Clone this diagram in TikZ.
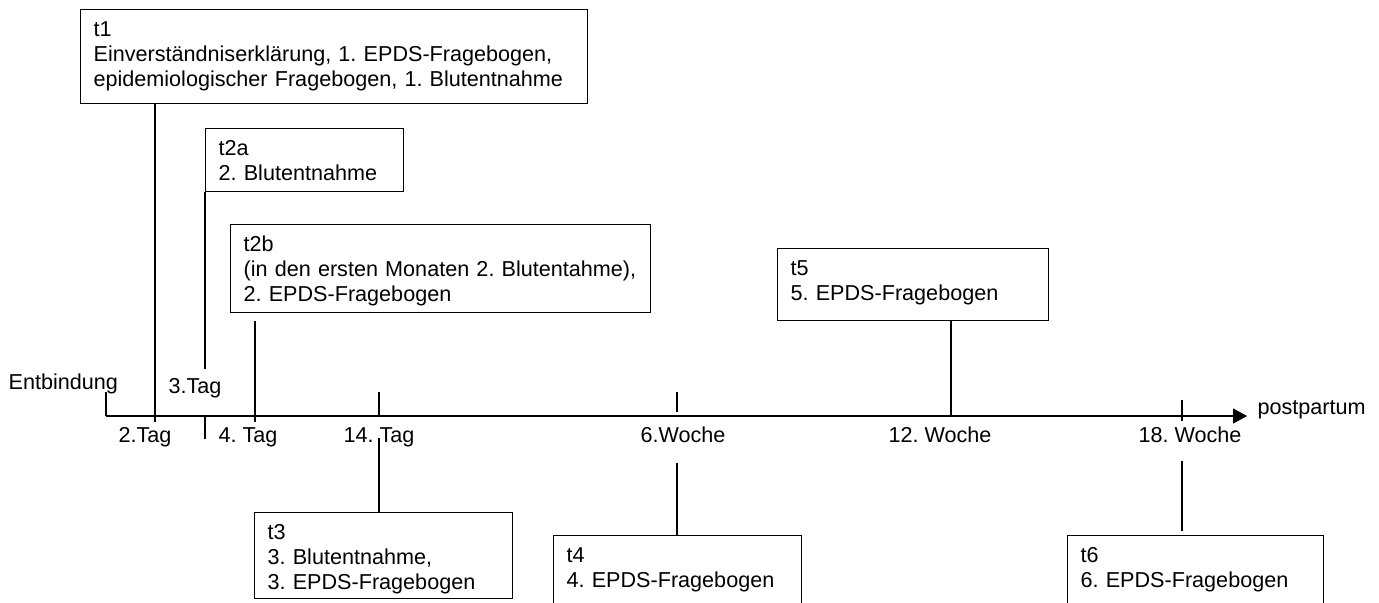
\documentclass[tikz,border=0pt]{standalone}
\usepackage{fontspec}
\setmainfont{Liberation Sans}
\frenchspacing
\usetikzlibrary{arrows.meta}

\begin{document}
\begin{tikzpicture}[
    x=0.5pt, y=-0.5pt,
    font=\fontsize{10.8pt}{12.5pt}\selectfont,
    line width=0.6pt,
    box/.style={rectangle, draw, anchor=north west, align=left, inner xsep=6.5pt, inner ysep=0pt, text height=13.5pt},
    lbl/.style={anchor=base west, inner sep=0pt},
    arrow/.style={->,>={Triangle[length=7pt,width=7.5pt]}}
]
\useasboundingbox (0,0) rectangle (1379,602);
\clip (0,0) rectangle (1379,602);

% time axis
\coordinate (birth) at (106,416);
\coordinate (d2) at (155,416);
\coordinate (d3) at (205,416);
\coordinate (d4) at (255,416);
\coordinate (d14) at (379,416);
\coordinate (w6) at (677,416);
\coordinate (w12) at (951,416);
\coordinate (w18) at (1182,416);
\coordinate (tip) at (1247,416);
\draw[arrow] (birth) -- (tip);

\node[lbl] (entb) at (8,389) {Entbindung};
\node[lbl] (post) at (1257,414) {postpartum};
\node[lbl] (lab2) at (118,442) {2.Tag};
\node[lbl] (lab3) at (168,393) {3.Tag};
\node[lbl] (lab4) at (218,442) {4. Tag};
\node[lbl] (lab14) at (343,442) {14. Tag};
\node[lbl] (lab6w) at (640,442) {6.Woche};
\node[lbl] (lab12w) at (888,442) {12. Woche};
\node[lbl] (lab18w) at (1138,442) {18. Woche};

% boxes
\node[box, text width=240.5pt, text depth=33.5pt] (t1) at (80,9) {t1\\Einverständniserklärung, 1. EPDS-Fragebogen,\\epidemiologischer Fragebogen, 1. Blutentnahme};
\node[box, text width=86pt, text depth=18pt] (t2a) at (205,128) {t2a\\2. Blutentnahme};
\node[box, text width=197pt, text depth=30.5pt] (t2b) at (230,224) {t2b\\(in den ersten Monaten 2. Blutentahme),\\2. EPDS-Fragebogen};
\node[box, text width=122.5pt, text depth=22.5pt] (t5) at (777,248) {t5\\5. EPDS-Fragebogen};
\node[box, text width=116pt, text depth=29.5pt] (t3) at (254,512) {t3\\3. Blutentnahme,\\3. EPDS-Fragebogen};
\node[box, text width=111pt, text depth=40pt] (t4) at (553,535) {t4\\4. EPDS-Fragebogen};
\node[box, text width=115pt, text depth=40pt] (t6) at (1067,535) {t6\\6. EPDS-Fragebogen};

% lines to the axis
\draw (birth) -- ++(0,-24);
\draw (t1.south -| d2) -- ([yshift=-3pt]d2);
\draw (t2a.south west) -- ++(0,177);
\draw (d3) -- ++(0,23);
\draw ([yshift=-4pt]t2b.south -| d4) -- ([yshift=-3pt]d4);
\draw (d14) -- ++(0,-24);
\draw (t3.north -| d14) -- ++(0,-74);
\draw ([yshift=2pt]w6) -- ++(0,-20);
\draw (t4.north -| w6) -- ++(0,-72);
\draw (t5.south -| w12) -- (w12);
\draw ([yshift=-2.5pt]w18) -- ++(0,-21);
\draw ([yshift=2pt]t6.north -| w18) -- ++(0,-70);

\end{tikzpicture}
\end{document}
